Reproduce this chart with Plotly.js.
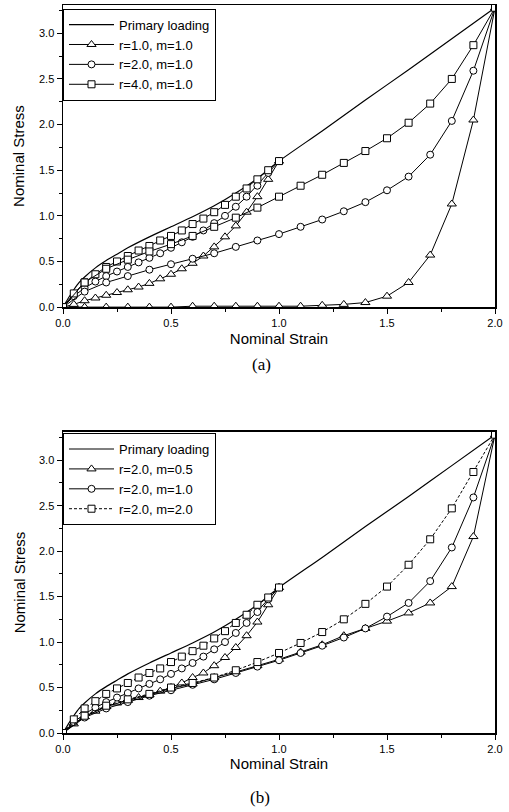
<!DOCTYPE html>
<html>
<head>
<meta charset="utf-8">
<script src="https://cdn.plot.ly/plotly-3.0.1.min.js"></script>
<style>
html,body{margin:0;padding:0;background:#fff;}
#chart{width:509px;height:812px;}
</style>
</head>
<body>
<div id="chart"></div>
<script>
// ---- Data ----
// Primary loading curve (same in both panels)
var primaryStrain = [0, 0.025, 0.05, 0.075, 0.1, 0.15, 0.2, 0.25, 0.3, 0.4, 0.5, 0.6, 0.7, 0.8, 0.9, 1.0, 1.2, 1.4, 1.6, 1.8, 2.0];
var primaryStress = [0, 0.10, 0.19, 0.27, 0.33, 0.43, 0.51, 0.58, 0.65, 0.77, 0.88, 0.99, 1.11, 1.25, 1.41, 1.60, 1.93, 2.27, 2.60, 2.94, 3.28];

// Unloading from strain 1.0 (markers every 0.05)
var unload1Strain = [1.0, 0.95, 0.9, 0.85, 0.8, 0.75, 0.7, 0.65, 0.6, 0.55, 0.5, 0.45, 0.4, 0.35, 0.3, 0.25, 0.2, 0.15, 0.1, 0.05, 0.0];
// Unloading from strain 2.0 (markers every 0.1)
var unload2Strain = [2.0, 1.9, 1.8, 1.7, 1.6, 1.5, 1.4, 1.3, 1.2, 1.1, 1.0, 0.9, 0.8, 0.7, 0.6, 0.5, 0.4, 0.3, 0.2, 0.1, 0.0];

// Panel (a)
var r1m1_unload1 = [1.60, 1.40, 1.21, 1.04, 0.89, 0.77, 0.66, 0.56, 0.48, 0.42, 0.36, 0.31, 0.26, 0.22, 0.19, 0.16, 0.13, 0.10, 0.07, 0.03, 0.0];
var r1m1_unload2 = [3.28, 2.05, 1.13, 0.57, 0.27, 0.12, 0.05, 0.03, 0.02, 0.01, 0.01, 0.01, 0.01, 0.01, 0.01, 0.0, 0.0, 0.0, 0.0, 0.0, 0.0];
var r2m1_unload1 = [1.60, 1.47, 1.33, 1.21, 1.10, 1.00, 0.92, 0.84, 0.77, 0.71, 0.65, 0.59, 0.54, 0.49, 0.44, 0.39, 0.34, 0.28, 0.21, 0.12, 0.0];
var r2m1_unload2 = [3.28, 2.59, 2.04, 1.67, 1.43, 1.28, 1.15, 1.05, 0.96, 0.88, 0.80, 0.73, 0.66, 0.59, 0.53, 0.47, 0.41, 0.34, 0.27, 0.17, 0.0];
var r4m1_unload1 = [1.60, 1.50, 1.40, 1.30, 1.21, 1.12, 1.04, 0.97, 0.91, 0.84, 0.78, 0.73, 0.67, 0.62, 0.56, 0.50, 0.44, 0.36, 0.27, 0.15, 0.0];
var r4m1_unload2 = [3.28, 2.87, 2.50, 2.23, 2.02, 1.85, 1.71, 1.58, 1.45, 1.33, 1.21, 1.09, 0.98, 0.88, 0.78, 0.69, 0.61, 0.52, 0.42, 0.27, 0.0];

// Panel (b)
var r2m05_unload1 = [1.60, 1.41, 1.22, 1.07, 0.94, 0.83, 0.74, 0.66, 0.61, 0.55, 0.50, 0.46, 0.42, 0.39, 0.36, 0.33, 0.29, 0.24, 0.18, 0.10, 0.0];
var r2m05_unload2 = [3.28, 2.16, 1.61, 1.43, 1.32, 1.23, 1.15, 1.07, 0.97, 0.89, 0.81, 0.74, 0.67, 0.61, 0.54, 0.49, 0.42, 0.36, 0.29, 0.18, 0.0];
var r2m2_unload1 = [1.60, 1.49, 1.41, 1.30, 1.21, 1.12, 1.04, 0.96, 0.90, 0.84, 0.78, 0.71, 0.66, 0.61, 0.55, 0.49, 0.43, 0.35, 0.27, 0.15, 0.0];
var r2m2_unload2 = [3.28, 2.87, 2.47, 2.13, 1.85, 1.61, 1.42, 1.25, 1.11, 0.99, 0.88, 0.78, 0.69, 0.61, 0.55, 0.50, 0.43, 0.37, 0.30, 0.19, 0.0];

var labelsA = ['Primary loading', 'r=1.0, m=1.0', 'r=2.0, m=1.0', 'r=4.0, m=1.0'];
var labelsB = ['Primary loading', 'r=2.0, m=0.5', 'r=2.0, m=1.0', 'r=2.0, m=2.0'];
var tickVals = [0, 0.5, 1.0, 1.5, 2.0, 2.5, 3.0];

// ---- Styles ----
var FONT = 'Liberation Sans, Arial, sans-serif';
function mk(sym, size) {
  return {symbol: sym, size: size, color: '#ffffff', line: {color: '#000000', width: 1}};
}
var triM = mk('triangle-up', 8), cirM = mk('circle', 7), sqM = mk('square', 7);

function primary(xa, ya, leg) {
  return {x: primaryStrain, y: primaryStress, xaxis: xa, yaxis: ya, legend: leg,
    type: 'scatter', mode: 'lines', name: 'Primary loading', line: {shape: 'spline', smoothing: 0.6, color: '#000', width: 1.2},
    showlegend: true};
}
function pair(xa, ya, leg, name, y1, y2, marker, dash, grp) {
  return [
    {x: unload1Strain, y: y1, xaxis: xa, yaxis: ya, legend: leg, legendgroup: grp,
     type: 'scatter', mode: 'lines+markers', name: name, showlegend: true,
     line: {color: '#000', width: 1, dash: dash}, marker: marker},
    {x: unload2Strain, y: y2, xaxis: xa, yaxis: ya, legend: leg, legendgroup: grp,
     type: 'scatter', mode: 'lines+markers', name: name, showlegend: false,
     line: {color: '#000', width: 1, dash: dash}, marker: marker}
  ];
}

var data = [];
data.push(primary('x', 'y', 'legend'));
data = data.concat(pair('x', 'y', 'legend', labelsA[1], r1m1_unload1, r1m1_unload2, triM, 'solid', 'a1'));
data = data.concat(pair('x', 'y', 'legend', labelsA[2], r2m1_unload1, r2m1_unload2, cirM, 'solid', 'a2'));
data = data.concat(pair('x', 'y', 'legend', labelsA[3], r4m1_unload1, r4m1_unload2, sqM, 'solid', 'a3'));
data.push(primary('x2', 'y2', 'legend2'));
data = data.concat(pair('x2', 'y2', 'legend2', labelsB[1], r2m05_unload1, r2m05_unload2, triM, 'solid', 'b1'));
data = data.concat(pair('x2', 'y2', 'legend2', labelsB[2], r2m1_unload1, r2m1_unload2, cirM, 'solid', 'b2'));
data = data.concat(pair('x2', 'y2', 'legend2', labelsB[3], r2m2_unload1, r2m2_unload2, sqM, '3px,2px', 'b3'));

function xaxis(anchor) {
  return {anchor: anchor, domain: [0, 1], range: [0, 2], tickmode: 'array',
    tickvals: [0, 0.5, 1.0, 1.5, 2.0], tickformat: '.1f',
    ticks: 'outside', ticklen: 5, tickwidth: 1, tickcolor: '#000',
    minor: {dtick: 0.25, tick0: 0, ticks: 'outside', ticklen: 3, tickwidth: 1, tickcolor: '#000'},
    showline: true, linecolor: '#000', linewidth: 1.5, mirror: true,
    showgrid: false, zeroline: false,
    tickfont: {family: FONT, size: 11, color: '#000'},
    title: {text: 'Nominal Strain', font: {family: FONT, size: 15, color: '#000'}, standoff: 5}};
}
function yaxis(anchor, dom) {
  return {anchor: anchor, domain: dom, range: [0, 3.31], tickmode: 'array',
    tickvals: tickVals, tickformat: '.1f',
    ticks: 'outside', ticklen: 5, tickwidth: 1, tickcolor: '#000',
    minor: {dtick: 0.25, tick0: 0, ticks: 'outside', ticklen: 3, tickwidth: 1, tickcolor: '#000'},
    showline: true, linecolor: '#000', linewidth: 1.5, mirror: true,
    showgrid: false, zeroline: false,
    tickfont: {family: FONT, size: 11, color: '#000'},
    title: {text: 'Nominal Stress', font: {family: FONT, size: 15, color: '#000'}, standoff: 10}};
}
function legend(y) {
  return {x: 0, xanchor: 'left', y: y, yanchor: 'top', xref: 'paper', yref: 'paper',
    bgcolor: '#fff', bordercolor: '#000', borderwidth: 1,
    font: {family: FONT, size: 13, color: '#000'}, itemwidth: 45, tracegroupgap: 0,
    traceorder: 'normal'};
}

var layout = {
  width: 509, height: 812,
  margin: {l: 63, r: 14, t: 5, b: 79},
  paper_bgcolor: '#fff', plot_bgcolor: '#fff',
  showlegend: true,
  xaxis: xaxis('y'),
  yaxis: yaxis('x', [0.585, 1]),
  xaxis2: xaxis('y2'),
  yaxis2: yaxis('x2', [0, 0.4135]),
  legend: legend(0.995),
  legend2: legend(0.412),
  annotations: [
    {text: '(a)', xref: 'paper', yref: 'paper', x: 0.46, y: 0.5055, xanchor: 'center', yanchor: 'middle',
     showarrow: false, font: {family: 'Liberation Serif, Times New Roman, serif', size: 17, color: '#000'}},
    {text: '(b)', xref: 'paper', yref: 'paper', x: 0.455, y: -0.088, xanchor: 'center', yanchor: 'middle',
     showarrow: false, font: {family: 'Liberation Serif, Times New Roman, serif', size: 17, color: '#000'}}
  ]
};

Plotly.newPlot('chart', data, layout, {staticPlot: true, displayModeBar: false});
</script>
</body>
</html>
